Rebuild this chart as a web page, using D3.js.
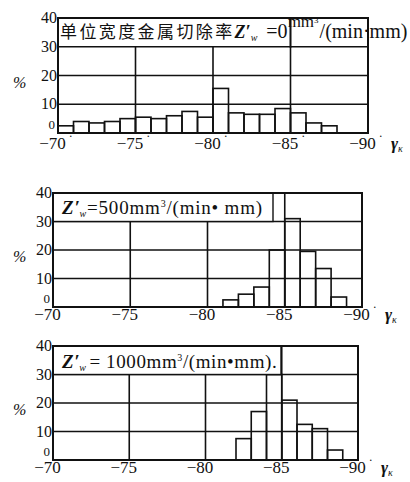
<!DOCTYPE html>
<html>
<head>
<meta charset="utf-8">
<script src="https://cdn.jsdelivr.net/npm/d3@7"></script>
<style>
  body { margin: 0; background: #fff; }
  svg { display: block; }
</style>
</head>
<body>
<div id="container"></div>
<script>
// angle ticks (deg) and percent ticks
const xTicks = [-70, -75, -80, -85, -90];
const yTicks = [0, 10, 20, 30, 40];

// Z'w = 0 : bins of 1 deg starting at -70
const startA = -70;
const valuesA = [2.5, 4, 3.5, 4, 5, 5.5, 5, 6, 7.5, 5.5, 15.5, 7, 6.5, 6.5, 8.5, 7, 3.5, 2.5];
// Z'w = 500 : bins starting at -81
const startB = -81;
const valuesB = [2.5, 4.5, 7, 20, 31, 19.5, 13.5, 3.5];
// Z'w = 1000 : bins starting at -82
const startC = -82;
const valuesC = [7.5, 17, 30, 21, 12.5, 11, 3.5];

const serif = "'Liberation Serif', 'Times New Roman', 'DejaVu Serif', serif";

const svg = d3.select("#container").append("svg")
    .attr("width", 410)
    .attr("height", 482)
    .attr("font-family", serif)
    .style("font-family", serif);

function drawPanel(p) {
    const x = d3.scaleLinear().domain([-70, -90]).range([p.left, p.right]);
    const y = d3.scaleLinear().domain([0, 40]).range([p.bottom, p.top]);
    const g = svg.append("g").attr("fill", "#111");

    // horizontal grid
    g.selectAll("line.h")
        .data(yTicks.slice(1, 4))
      .enter().append("line")
        .attr("x1", p.left).attr("x2", p.right)
        .attr("y1", d => y(d)).attr("y2", d => y(d))
        .attr("stroke", "#111").attr("stroke-width", 1.6);

    // vertical grid (-75, -80 stop at the 30 line, -85 goes full height)
    g.selectAll("line.v")
        .data([-75, -80, -85])
      .enter().append("line")
        .attr("x1", d => x(d)).attr("x2", d => x(d))
        .attr("y1", d => d === -85 ? y(40) : y(30)).attr("y2", y(0))
        .attr("stroke", "#111").attr("stroke-width", 1.6);

    // bars
    g.selectAll("rect.bar")
        .data(p.values)
      .enter().append("rect")
        .attr("x", (d, i) => x(p.start - i))
        .attr("width", (d, i) => x(p.start - i - 1) - x(p.start - i))
        .attr("y", d => y(d))
        .attr("height", d => y(0) - y(d))
        .attr("fill", "none")
        .attr("stroke", "#111").attr("stroke-width", 1.6);

    // label box
    if (p.boxRight) {
        g.append("rect")
            .attr("x", p.left).attr("y", y(40))
            .attr("width", p.boxRight - p.left).attr("height", y(30) - y(40))
            .attr("fill", "#fff").attr("stroke", "#111").attr("stroke-width", 1.4);
    }

    // frame
    g.append("rect")
        .attr("x", p.left).attr("y", p.top)
        .attr("width", p.right - p.left).attr("height", p.bottom - p.top)
        .attr("fill", "none").attr("stroke", "#111").attr("stroke-width", 2);

    // y tick labels
    g.selectAll("text.yl")
        .data(yTicks)
      .enter().append("text")
        .attr("x", d => d === 0 ? p.left - 3 : p.left - 1)
        .attr("y", d => d === 0 ? y(d) - 4 : y(d) + 5)
        .attr("text-anchor", "end")
        .attr("font-size", d => d === 0 ? 13 : 16)
        .text(d => d);

    // x tick labels
    const xl = g.selectAll("text.xl")
        .data(xTicks)
      .enter().append("text")
        .attr("x", d => x(d) - 2)
        .attr("y", p.bottom + p.labelDy)
        .attr("text-anchor", "middle")
        .attr("font-size", 17);
    xl.append("tspan").text(d => "\u2212" + Math.abs(d));
    xl.append("tspan").attr("dx", 3).attr("dy", -9).attr("font-size", 12).text("\u00b7");

    // axis name
    const an = g.append("text")
        .attr("x", p.right + 23)
        .attr("y", p.bottom + p.labelDy)
        .attr("font-size", 17);
    an.append("tspan").attr("font-weight", "bold").attr("font-style", "italic").text("\u03b3");
    an.append("tspan").attr("font-size", 10).attr("dy", 3).attr("font-style", "italic").text("\u03ba");

    // % label
    g.append("text")
        .attr("x", 13).attr("y", y(20) + 12)
        .attr("font-size", 16).attr("font-style", "italic")
        .text("%");
    return { x, y, g };
}

// panel 1
const p1 = drawPanel({ left: 58, right: 368, top: 18, bottom: 133, labelDy: 16, values: valuesA, start: startA });
p1.g.append("rect")
    .attr("x", 60).attr("y", 20).attr("width", 222).attr("height", 26)
    .attr("fill", "#fff");
p1.g.append("line")
    .attr("x1", p1.x(-85)).attr("x2", p1.x(-85)).attr("y1", 18).attr("y2", 48)
    .attr("stroke", "#111").attr("stroke-width", 1.6);
const t1 = p1.g.append("text").attr("x", 60).attr("y", 38).attr("font-size", 17);
t1.append("tspan").attr("font-family", "'Noto Sans CJK SC'").attr("letter-spacing", 2.4).text("单位宽度金属切除率");
t1.append("tspan").attr("font-weight", "bold").attr("font-style", "italic").attr("font-size", 18).text("Z\u2032");
t1.append("tspan").attr("font-size", 10).attr("dy", 3).attr("font-style", "italic").text("w");
t1.append("tspan").attr("dy", -3).attr("dx", 9).attr("font-size", 20).text("=0");
t1.append("tspan").attr("dy", -11).attr("font-size", 17).text("mm");
t1.append("tspan").attr("dy", -4).attr("font-size", 9).text("3");
t1.append("tspan").attr("dy", 15).attr("dx", 1).attr("font-size", 20).text("/(min\u00b7mm)");

// panel 2
const p2 = drawPanel({ left: 53, right: 362, top: 193, bottom: 307, labelDy: 13, values: valuesB, start: startB, boxRight: 273 });
const t2 = p2.g.append("text").attr("x", 62).attr("y", 214).attr("font-size", 19).attr("letter-spacing", 0.8);
t2.append("tspan").attr("font-weight", "bold").attr("font-style", "italic").text("Z\u2032");
t2.append("tspan").attr("font-size", 10).attr("dy", 3).attr("dx", -1).attr("font-style", "italic").text("w");
t2.append("tspan").attr("dy", -3).text("=500mm");
t2.append("tspan").attr("dy", -7).attr("font-size", 10).text("3");
t2.append("tspan").attr("dy", 7).text("/(min\u2022 mm)");

// panel 3
const p3 = drawPanel({ left: 53, right: 358, top: 346, bottom: 460, labelDy: 13, values: valuesC, start: startC, boxRight: 281 });
const t3 = p3.g.append("text").attr("x", 62).attr("y", 368).attr("font-size", 19).attr("letter-spacing", 0.6);
t3.append("tspan").attr("font-weight", "bold").attr("font-style", "italic").text("Z\u2032");
t3.append("tspan").attr("font-size", 10).attr("dy", 3).attr("dx", -1).attr("font-style", "italic").text("w");
t3.append("tspan").attr("dy", -3).attr("dx", 3).text("= 1000mm");
t3.append("tspan").attr("dy", -7).attr("font-size", 10).text("3");
t3.append("tspan").attr("dy", 7).text("/(min\u2022mm).");
</script>
</body>
</html>
